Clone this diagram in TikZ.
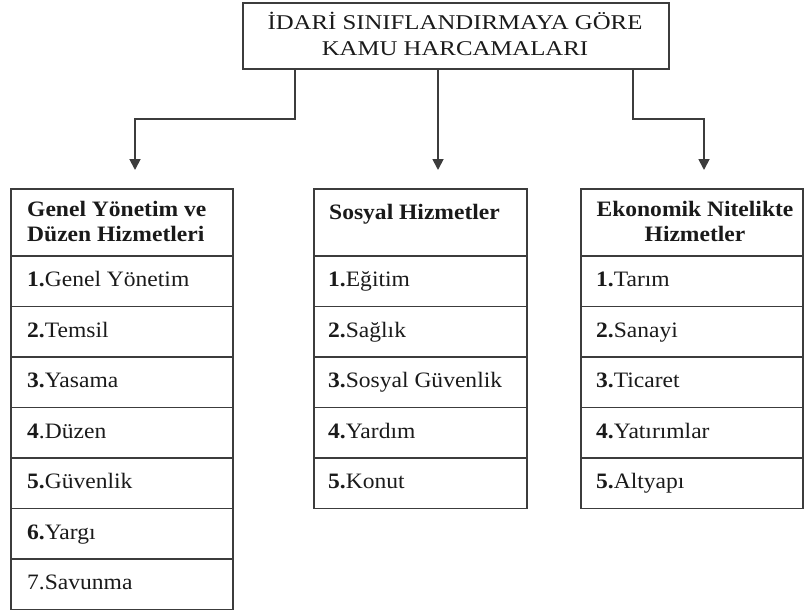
\documentclass[tikz,border=0pt]{standalone}
\usepackage{fontspec}
\setmainfont{Liberation Serif}[FakeStretch=1.07]
\newfontfamily\titlefont{Liberation Serif}[FakeStretch=1.18]
\usetikzlibrary{arrows.meta}
\definecolor{linec}{HTML}{3C3C3C}
\definecolor{textc}{HTML}{1A1A1A}
\begin{document}
\begin{tikzpicture}[x=1pt,y=-1pt,
  box/.style={draw=linec, line width=1.8pt, inner sep=0pt, anchor=north west},
  hdr/.style={font=\fontsize{22}{26}\selectfont\bfseries, text=textc, inner sep=0pt},
  itm/.style={font=\fontsize{22}{26}\selectfont, text=textc, inner sep=0pt, anchor=base west},
  ttl/.style={font=\titlefont\fontsize{21}{26}\selectfont, text=textc, inner sep=0pt, anchor=base},
  conn/.style={draw=linec, line width=1.8pt},
  arr/.style={conn, -{Triangle[length=11pt,width=11pt]}}]
\useasboundingbox (0,0) rectangle (804,611);

% title box
\node[box, minimum width=426pt, minimum height=66pt] (title) at (242,2) {};
\node[ttl] (tl1) at (455,29) {İDARİ SINIFLANDIRMAYA GÖRE};
\node[ttl] (tl2) at (455,55) {KAMU HARCAMALARI};

% connectors
\coordinate (bL) at (295,119);
\coordinate (eL) at (135,170);
\coordinate (eM) at (438,170);
\coordinate (bR) at (633,119);
\coordinate (eR) at (704,170);
\draw[arr] (title.south -| bL) -- (bL) -| (eL);
\draw[arr] (title.south -| eM) -- (eM);
\draw[arr] (title.south -| bR) -- (bR) -| (eR);

% left column
\node[box, minimum width=222pt, minimum height=67pt] (LH) at (10,188) {};
\node[hdr, anchor=base west] (LHt1) at (27,216) {Genel Yönetim ve};
\node[hdr, anchor=base west] (LHt2) at (27,241) {Düzen Hizmetleri};
\foreach \t [count=\i] in {{\textbf{1.}Genel Yönetim},{\textbf{2.}Temsil},{\textbf{3.}Yasama},{\textbf{4}.Düzen},{\textbf{5.}Güvenlik},{\textbf{6.}Yargı},{7.Savunma}}{
  \node[box, minimum width=222pt, minimum height=50.5pt] (L\i) at (10,{255+(\i-1)*50.5}) {};
  \node[itm] (Lt\i) at (27,{286.5+(\i-1)*50.5}) {\t};
}

% middle column
\node[box, minimum width=213pt, minimum height=67pt] (MH) at (313,188) {};
\node[hdr, anchor=base west] (MHt) at (329,219.5) {Sosyal Hizmetler};
\foreach \t [count=\i] in {{\textbf{1.}Eğitim},{\textbf{2.}Sağlık},{\textbf{3.}Sosyal Güvenlik},{\textbf{4.}Yardım},{\textbf{5.}Konut}}{
  \node[box, minimum width=213pt, minimum height=50.5pt] (M\i) at (313,{255+(\i-1)*50.5}) {};
  \node[itm] (Mt\i) at (328,{286.5+(\i-1)*50.5}) {\t};
}

% right column
\node[box, minimum width=222pt, minimum height=67pt] (RH) at (580,188) {};
\node[hdr, anchor=base] (RHt1) at (695,216) {Ekonomik Nitelikte};
\node[hdr, anchor=base] (RHt2) at (695,241) {Hizmetler};
\foreach \t [count=\i] in {{\textbf{1.}Tarım},{\textbf{2.}Sanayi},{\textbf{3.}Ticaret},{\textbf{4.}Yatırımlar},{\textbf{5.}Altyapı}}{
  \node[box, minimum width=222pt, minimum height=50.5pt] (R\i) at (580,{255+(\i-1)*50.5}) {};
  \node[itm] (Rt\i) at (596,{286.5+(\i-1)*50.5}) {\t};
}
\end{tikzpicture}
\end{document}
